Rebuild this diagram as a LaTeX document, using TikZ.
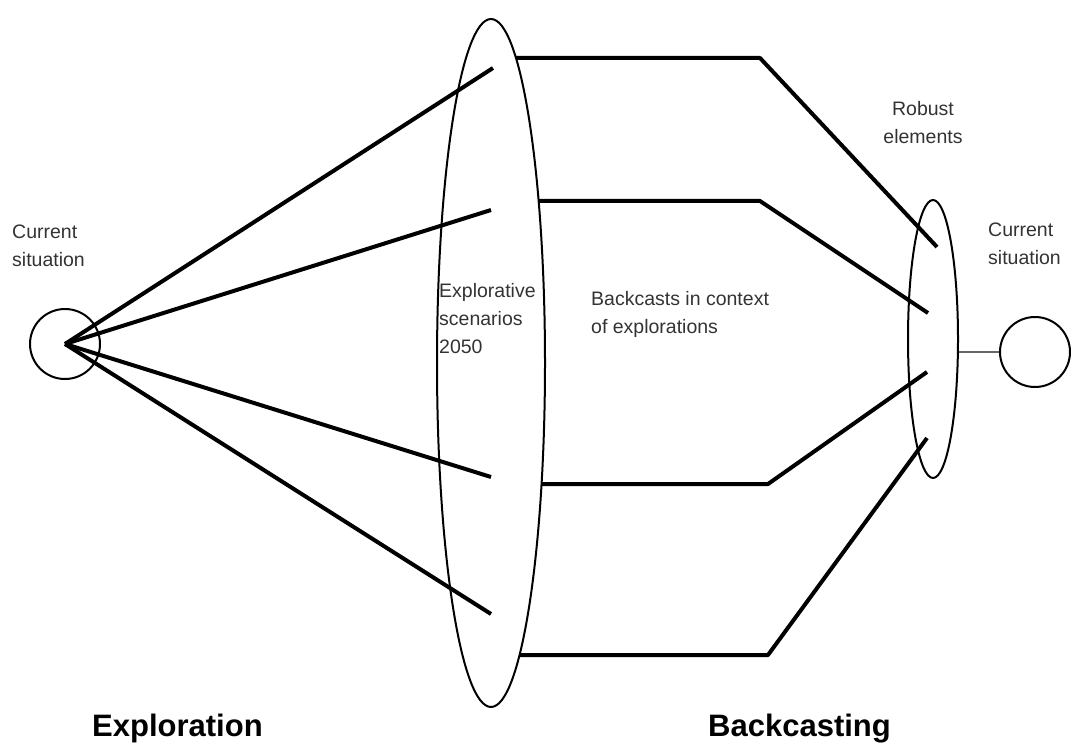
\documentclass[tikz,border=0pt]{standalone}
\usepackage{fontspec}
\setmainfont{Liberation Sans}
\usetikzlibrary{shapes.geometric,positioning}
\begin{document}
\begin{tikzpicture}[x=1pt, y=-1pt, line join=round,
	ring/.style={shape=circle,draw,line width=2pt,minimum size=70pt,inner sep=0},
	oval/.style={shape=ellipse,draw,line width=2pt,inner sep=0},
	trail/.style={line width=4pt},
	caption/.style={font=\fontsize{19.5}{28}\selectfont,text=black!80,align=left,inner sep=0},
	heading/.style={font=\fontsize{31}{36}\selectfont\bfseries,inner sep=0}]
				\useasboundingbox (0,0) rectangle (1071,746);
				\node[ring] (now) at (65,344) {};
				\node[ring] (nowR) at (1035,352) {};
				\node[oval,minimum width=108pt,minimum height=688pt] (scen) at (491,363) {};
				\node[oval,minimum width=50pt,minimum height=278pt] (robust) at (933,339) {};
				\coordinate (e1) at (493,68);
				\coordinate (e2) at (491,210);
				\coordinate (e3) at (491,477);
				\coordinate (e4) at (491,614);
				\coordinate (s1) at (516,58);   \coordinate (b1) at (760,58);   \coordinate (r1) at (937,247);
				\coordinate (s2) at (538,201);  \coordinate (b2) at (760,201);  \coordinate (r2) at (928,313);
				\coordinate (s3) at (542,484);  \coordinate (b3) at (768,484);  \coordinate (r3) at (927,372);
				\coordinate (s4) at (520,655);  \coordinate (b4) at (768,655);  \coordinate (r4) at (927,438);
				\foreach \i in {1,...,4}
					\draw[trail] (now.center) -- (e\i);
				\foreach \i in {1,...,4}
					\draw[trail] (s\i) -- (b\i) -- (r\i);
				\draw[black!60,line width=2pt] (robust.east |- nowR) -- (nowR.west);
				\node[caption,anchor=north west] (curL) at (12,225) {Current\\situation};
				\node[caption,anchor=north west] (expl) at (439,283) {Explorative\\scenarios\\2050};
				\node[caption,anchor=north west] (back) at (591,291) {Backcasts in context\\of explorations};
				\node[caption,anchor=north,align=center] (rob) at (923,101) {Robust\\elements};
				\node[caption,anchor=north west] (curR) at (988,223) {Current\\situation};
				\node[heading,anchor=base west] (explH) at (92,736) {Exploration};
				\node[heading,anchor=base west] (backH) at (708,736) {Backcasting};
			\end{tikzpicture}
\end{document}
